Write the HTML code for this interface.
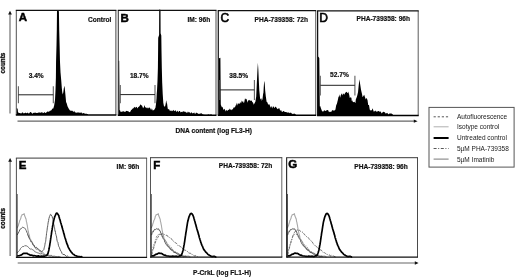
<!DOCTYPE html>
<html lang="en"><head><meta charset="utf-8"><title>Figure</title>
<style>html,body{margin:0;padding:0;background:#fff;}body{width:520px;height:277px;overflow:hidden;}svg{display:block;}text{font-family:"Liberation Sans", sans-serif;fill:#111;}.b{font-weight:bold;font-size:6.6px;stroke:#111;stroke-width:0.18px;}.r{font-size:6.5px;fill:#1a1a1a;}.L{font-weight:bold;font-size:11.5px;stroke:#000;stroke-width:0.5px;fill:#000;}.Lr{font-size:12px;stroke:#000;stroke-width:0.6px;fill:#000;}.c{font-weight:bold;font-size:6.3px;stroke:#111;stroke-width:0.3px;}</style></head><body>
<svg width="520" height="277" viewBox="0 0 520 277">
<rect width="520" height="277" fill="#fff"/>
<g fill="#000" stroke="none">
<path d="M16.5 115 L16.5 107.69 L17.3 108.83 L17.6 108.22 L18 112.37 L19 113 L19.7 112.95 L20.5 113.26 L21.3 113.48 L22.1 112.54 L22.9 112.48 L23.7 113.62 L24.5 113.09 L25 113.32 L25.3 112.48 L26.1 112.99 L26.9 113.28 L27.7 112.49 L28.5 113.42 L29.3 113.27 L30 112.36 L30.9 112.09 L31.7 113 L32.5 113.71 L33 113.14 L33.3 112.8 L34.1 113.05 L34.9 112.48 L35.7 112.71 L36.5 112.97 L37.3 113.02 L38 112.87 L38.9 112.56 L39.7 112.49 L40.5 112.78 L41.3 112.48 L42.1 112.03 L42.9 113.17 L43.7 112.7 L44 112.67 L44.5 112.03 L45.3 113.09 L46.1 112.74 L47 111.79 L47.7 111.44 L48.5 111.78 L49.3 111.46 L49.5 111.27 L50.1 110.49 L50.9 110.81 L51.5 109.92 L52.5 108.5 L53 108.57 L53.3 108.57 L54.2 105.36 L55 100.01 L55.5 90.11 L55.9 77.45 L56.05 61.69 L56.5 45.35 L56.8 29.9 L57 10.11 L57.3 10.67 L58.1 11.19 L58.9 10.71 L59.2 29.85 L59.6 44.93 L60 62.01 L60.5 72.33 L61.2 80.02 L61.8 87.87 L62.1 90.96 L62.3 92.44 L62.8 94.46 L63.3 92.24 L63.8 88.57 L64.3 85.71 L64.8 88.37 L65.3 93.61 L65.8 99 L66.1 102.14 L66.5 102.82 L66.9 104.03 L67.5 106.35 L68.5 108.28 L69.3 109.44 L70 110.51 L70.9 110.71 L71.7 110.81 L72.5 110.79 L73 111.43 L73.3 112.24 L74.1 110.77 L74.9 112.21 L75.7 112.41 L76.5 112.65 L77.3 112.55 L78 112.47 L78.9 112.49 L79.7 112.7 L80.5 112.64 L81.3 112.26 L82.1 113.55 L83 113.23 L83.7 112.94 L84.5 113.51 L85.3 113.64 L86.1 113.64 L86.9 113.79 L87.7 114.19 L88 114.25 L88 115 Z"/>
<path d="M118.3 115.4 L118.3 60.81 L119.2 60.8 L119.6 110.61 L119.9 110.01 L120.7 111.97 L121.5 111.83 L122.3 111.77 L123.1 111.03 L124 111.68 L124.7 111.8 L125.5 111.69 L126.3 110.65 L127.1 111.23 L127.9 111.09 L128.5 111.49 L129.5 112.15 L130.3 111.77 L131 110.34 L131.9 109.6 L132.7 108.57 L133.5 108.27 L134.3 106.75 L135.1 107.78 L136 107.16 L136.7 106.76 L137.5 108.51 L138.3 106.89 L139 106.68 L139.9 105.38 L140.7 104.37 L141.5 105.46 L142 105.57 L142.3 106.16 L143.1 108.24 L143.9 106.95 L144.7 104.98 L145 106.86 L145.5 107.62 L146.3 107.54 L147.1 108.39 L148 107.35 L148.7 108.45 L149.5 107.25 L150.5 108.87 L151.1 110.26 L151.9 108.31 L152.5 110.06 L152.7 110.52 L153.5 110.26 L154.5 109.53 L155.1 108.13 L155.4 108.05 L156 104 L156.5 98.59 L156.7 94.06 L157 90.68 L157.5 80.71 L157.9 67.93 L158.1 50.12 L158.2 37.75 L159.1 34.9 L159.2 10.48 L159.9 9.09 L160.5 10.19 L160.6 33.35 L161.3 35.41 L161.5 50.73 L161.8 67.59 L162.2 82.73 L162.7 93.66 L163.3 102.81 L164 106.3 L164.7 106.58 L165 106.82 L165.6 104.26 L166.2 100.36 L166.8 103.17 L167.1 103.67 L167.5 107.02 L167.9 109.2 L168.7 109.24 L169 108.84 L169.5 110.48 L170.3 110.51 L171.1 111.34 L172 110.32 L172.7 111.33 L173.5 109.67 L174.3 111.29 L175.1 110.45 L175.9 110.45 L176.7 112.13 L177.5 110.4 L178 111.42 L178.3 112.27 L179.1 110.93 L179.9 110.96 L180.7 112.57 L181.5 111.63 L182.3 112.37 L183.1 110.97 L183.9 111.78 L184.7 111.48 L185 112.33 L185.5 111.39 L186.3 113.27 L187.1 111.49 L187.9 112.98 L188.7 111.69 L189.5 112.25 L190.3 113.4 L191.1 112.26 L192 112.8 L192.7 113.41 L193.5 112.95 L194.3 112.44 L195.1 114.15 L195.9 112.8 L196.7 112.7 L197.5 113.3 L198.3 113.81 L199.1 114.09 L200 113.59 L200.7 113.61 L201.5 113.23 L202.3 113.93 L203.1 114.46 L203.9 114.48 L204.7 114.78 L205.5 114.63 L206.3 114.84 L207.1 114.69 L208 114.49 L208.7 114.22 L209.5 114.85 L210.3 114.5 L211.1 114.33 L211.9 114.83 L212.7 115.4 L213 114.85 L213 115.4 Z"/>
<path d="M218.6 115.4 L218.6 57.51 L219.4 58.24 L220.4 57.76 L220.8 104.19 L221 105.28 L222 107.44 L222.6 106.69 L223.4 110.06 L224.2 108.71 L225 109.73 L225.8 111.43 L226.6 109.83 L227.4 110.89 L228.2 109.77 L229 109.95 L229.8 108.51 L230.6 109.8 L231.4 110.35 L232 109.03 L232.2 109.66 L233 108.86 L234 106.91 L234.6 107.81 L235.4 106.16 L236 104.67 L236.2 102.54 L237 105.87 L238 102.95 L238.6 103.78 L239.4 104.12 L240.2 102 L241 103.55 L241.8 100.47 L242.6 102.34 L243 100.5 L243.4 102.86 L244.2 102.46 L245 98.19 L246 99.52 L246.6 98.75 L247.4 102.82 L248.2 100.08 L249 100.74 L249.8 99.65 L250.6 100.97 L251.4 100.53 L252 101.02 L252.2 101.89 L253 102.43 L253.8 104.67 L254.5 103.34 L255.4 101.8 L256 97.66 L256.2 96.81 L256.5 90.32 L257 79.37 L257.5 68.67 L257.9 62.77 L258.3 68.75 L258.8 80.13 L259.3 90.4 L259.8 95.46 L260.2 99.48 L260.5 99.14 L261 98.16 L261.5 98.79 L261.8 101 L262.5 98.91 L263.2 93.23 L263.4 93.2 L263.7 87.83 L264.1 82.35 L264.4 80.92 L264.8 84.5 L265.2 90.69 L265.8 96.15 L266.6 101.71 L267.5 102.55 L268.2 105.03 L269 103.65 L270 105.82 L270.6 107.73 L271.4 106.03 L272.2 108.57 L273 106.15 L274 106.93 L274.6 108.13 L275.4 106.39 L276.2 107.37 L277 108.46 L278 109.32 L278.6 108.33 L279.4 108.31 L280.2 111.08 L281 109.75 L281.8 111.82 L282.6 111.9 L283 110.89 L283.4 111.02 L284.2 111.41 L285 111.94 L285.8 112.06 L286.6 112.21 L287.4 112.57 L288 112.82 L288.2 112.56 L289 112.58 L289.8 113.31 L290.6 112.59 L291.4 112.89 L292.2 114.24 L293 113.61 L293.8 113.94 L294.6 113.42 L295.4 114.28 L296 114.64 L296 115.4 Z"/>
<path d="M317.8 115.7 L317.8 58.01 L318.6 56.39 L319.3 58.31 L319.8 106.5 L320.2 105.94 L321 108.57 L322 110.92 L322.6 111.43 L323.4 111.42 L324.2 110 L325 110.98 L326 110.79 L326.6 110.15 L327.4 110.02 L328.2 110.35 L329 112.28 L330 111.5 L330.6 111.9 L331.4 111.74 L332.2 109.91 L333 110.41 L333.8 110.54 L334.6 110.45 L335 109.9 L335.4 109.72 L336.2 105.35 L337 103.49 L337.5 101.32 L337.8 100.23 L338.6 96.35 L339 96.95 L339.4 94.32 L340.2 97.81 L340.6 95.68 L341 94.82 L342 93.13 L342.6 95.48 L343.5 93.13 L344.2 94.85 L345 93.25 L345.8 92.27 L346.7 91.64 L347.4 92.97 L348 92.87 L348.2 91.53 L349.2 94.64 L349.8 98.05 L350.5 97.15 L351.4 97.66 L351.8 101.24 L352.2 100.27 L353 102.36 L353.8 101.99 L354.5 101.71 L355.4 103.26 L355.8 99.43 L356.2 98.54 L357 96.45 L358 92.25 L358.8 84.58 L359.5 79.33 L360.2 84.46 L361 89.67 L362 94.11 L362.6 97.15 L363.5 95.76 L364.2 94.77 L365 97.3 L365.8 99.61 L366.2 98.61 L366.6 97.64 L367.2 99.69 L367.4 99.28 L368.2 104.93 L369 104.93 L369.5 108.26 L369.8 109.68 L370.6 110.38 L371.4 110.14 L372 110.3 L372.2 108.37 L373 109.46 L373.8 111.71 L374.6 111.36 L375.4 110.57 L376 111.42 L376.2 111.37 L377 112.09 L377.8 110.95 L378.6 110.92 L379.4 111.75 L380.2 111.26 L381 112.21 L381.8 113.45 L382.6 112.24 L383.4 111.73 L384.2 111.97 L385 112.39 L385.8 113.72 L386.6 113.07 L387 113.27 L387.4 112.76 L388.2 114.48 L389 113.67 L389.8 113.48 L390.6 113.43 L391.4 113.61 L392.2 113.96 L393 114.69 L393 115.7 Z"/>
</g>
<path d="M16.3 10.3V114.9" stroke="#505050" stroke-width="1"/>
<path d="M115.9 10.3V114.9" stroke="#444" stroke-width="1"/>
<path d="M15.8 10.3H116.4" stroke="#111" stroke-width="1.2"/>
<path d="M15.8 114.9H116.4" stroke="#000" stroke-width="1.5"/>
<path d="M118.3 10.4V115.2" stroke="#3a3a3a" stroke-width="1.1"/>
<path d="M216 10.4V115.2" stroke="#505050" stroke-width="1"/>
<path d="M117.8 10.4H216.5" stroke="#111" stroke-width="1.2"/>
<path d="M117.8 115.2H216.5" stroke="#000" stroke-width="1.5"/>
<path d="M218.3 10.6V115.3" stroke="#222" stroke-width="1.3"/>
<path d="M315.7 10.6V115.3" stroke="#606060" stroke-width="1"/>
<path d="M217.8 10.6H316.2" stroke="#111" stroke-width="1.2"/>
<path d="M217.8 115.3H316.2" stroke="#000" stroke-width="1.5"/>
<path d="M317.6 10.8V115.6" stroke="#111" stroke-width="1.3"/>
<path d="M418.2 10.8V115.6" stroke="#5a5a5a" stroke-width="1"/>
<path d="M317.1 10.8H418.7" stroke="#111" stroke-width="1.2"/>
<path d="M317.1 115.6H418.7" stroke="#000" stroke-width="1.5"/>
<path d="M18.4 86.3V103.3 M53.3 86.3V103.3" fill="none" stroke="#606060" stroke-width="1.1"/>
<path d="M18.4 94.8H53.3" fill="none" stroke="#222" stroke-width="1"/>
<path d="M120.3 85V103.3 M155 85V103.3" fill="none" stroke="#606060" stroke-width="1.1"/>
<path d="M120.3 94.6H155" fill="none" stroke="#222" stroke-width="1"/>
<path d="M219.9 80V100 M254.4 80V100" fill="none" stroke="#606060" stroke-width="1.1"/>
<path d="M219.9 89.9H254.4" fill="none" stroke="#222" stroke-width="1"/>
<path d="M320.3 75.7V95.4 M354.9 75.7V95.4" fill="none" stroke="#606060" stroke-width="1.1"/>
<path d="M320.3 85.3H354.9" fill="none" stroke="#222" stroke-width="1"/>
<text x="18.8" y="20.8" class="L" text-anchor="start">A</text>
<text x="120.6" y="22.2" class="L" text-anchor="start">B</text>
<text x="220.6" y="22.4" class="Lr" text-anchor="start">C</text>
<text x="319.2" y="22.3" class="Lr" text-anchor="start">D</text>
<text x="111.4" y="22.1" class="b" text-anchor="end">Control</text>
<text x="210.2" y="22.2" class="b" text-anchor="end">IM: 96h</text>
<text x="308" y="22.1" class="b" text-anchor="end">PHA-739358: 72h</text>
<text x="410" y="21.4" class="b" text-anchor="end">PHA-739358: 96h</text>
<text x="36.2" y="78" class="b" text-anchor="middle">3.4%</text>
<text x="139.3" y="78" class="b" text-anchor="middle">18.7%</text>
<text x="238.7" y="77.6" class="b" text-anchor="middle">38.5%</text>
<text x="339.4" y="77.1" class="b" text-anchor="middle">52.7%</text>
<line x1="10" y1="12.8" x2="10" y2="113.5" stroke="#555" stroke-width="1"/>
<path d="M10 10.8L8.1 14.4L11.9 14.4Z" fill="#111"/>
<line x1="17.5" y1="121.15" x2="415.6" y2="121.15" stroke="#666" stroke-width="1.1"/>
<path d="M417.6 121.15L413.8 119.45L413.8 122.85Z" fill="#111"/>
<text x="175.6" y="132.6" class="b" text-anchor="start">DNA content (log FL3-H)</text>
<text transform="translate(4.5 63.1) rotate(-90)" class="c" text-anchor="middle">counts</text>
<path d="M17.2 228 L17.46 227.24 L17.84 226.4 L18.28 225.76 L18.7 223.95 L19.03 223.05 L19.37 222.13 L19.72 220.51 L20.06 219.95 L20.4 219.18 L20.81 218.34 L21.21 216.36 L21.6 215.76 L22 214.73 L22.8 214.64 L23.6 214.17 L24.13 213.65 L24.66 215.8 L25.2 217.15 L25.43 217.5 L25.67 218.36 L25.9 218.73 L26.14 219.64 L26.38 221.54 L26.64 222.11 L26.9 223.57 L27.09 224.59 L27.29 225.31 L27.49 227.01 L27.7 228.09 L27.91 229.79 L28.12 230.47 L28.34 231.75 L28.55 232.61 L28.78 233.83 L29 234.44 L29.38 235.52 L29.77 237.72 L30.17 238.8 L30.57 239.58 L30.98 240.35 L31.4 240.74 L31.9 241.72 L32.41 242.82 L32.93 243.48 L33.46 245.34 L34 245.66 L34.7 247.22 L35.42 247.4 L36.16 248.95 L36.9 249.49 L37.84 249.09 L38.79 250.05 L39.9 251.77 L40.68 251.69 L41.52 252.98 L42.42 252.75 L43.38 252.87 L44.4 254.18 L45.31 254.81 L46.29 254.51 L47.31 254.66 L48.34 255.37 L49.38 256.58 L50.4 256.56 L51.47 255.86 L52.62 256.19 L53.77 256.08 L54.84 256.09 L55.75 257.17 L56.4 256.8" fill="none" stroke="#a8a8a8" stroke-width="1.1" stroke-linejoin="round"/>
<path d="M17.2 235 L17.64 234.03 L18.29 232.97 L19 231.73 L19.76 229.93 L20.59 228.75 L21.4 228.42 L22.57 227.26 L23.7 227.63 L24.38 227.84 L25.03 228.5 L25.7 229.58 L26.12 230.62 L26.55 230.97 L26.99 232.56 L27.44 233.38 L27.9 235.57 L28.29 235.3 L28.67 237.29 L29.06 237.18 L29.47 238.96 L29.92 239.38 L30.4 240.37 L30.93 241.87 L31.51 241.62 L32.11 242.57 L32.74 244.62 L33.37 244.87 L34 245.03 L34.76 247.08 L35.53 247.75 L36.32 247.24 L37.11 248.29 L37.9 248.49 L38.94 249.57 L40.02 250.85 L41.04 250.86 L41.9 251.88 L42.73 250.69 L43.33 250 L43.9 249.44 L44.13 248.15 L44.35 247.36 L44.56 246.71 L44.77 245.55 L44.98 244.37 L45.19 242.75 L45.39 242.55 L45.6 241.65 L45.74 240.8 L45.87 239.44 L46 238.04 L46.13 237.05 L46.26 236.47 L46.39 235.4 L46.52 233.56 L46.66 232.67 L46.79 231.8 L46.92 230.98 L47.06 230.39 L47.2 229 L47.37 227.2 L47.55 227.15 L47.73 225.43 L47.91 224.39 L48.09 222.84 L48.27 222.04 L48.45 220.95 L48.64 220.52 L48.82 218.71 L49 218.57 L49.45 216.47 L49.9 216.04 L50.35 214.4 L50.8 214.49 L51.24 214.82 L51.67 215.92 L52.12 216.26 L52.6 218.44 L52.78 218.82 L52.98 219.76 L53.17 220.97 L53.37 222.65 L53.57 223.04 L53.78 224.79 L53.98 224.8 L54.19 226.97 L54.39 227.27 L54.6 228.08 L54.8 229.85 L55.02 231.13 L55.24 230.92 L55.47 232.34 L55.69 234.09 L55.91 234.52 L56.13 235.39 L56.35 236.05 L56.57 237.05 L56.79 238.78 L57 240.18 L57.29 241.39 L57.57 241.82 L57.85 242.21 L58.13 243.65 L58.41 245.27 L58.7 246.26 L59 246.9 L59.45 247.54 L59.92 249.11 L60.41 250.12 L60.9 251.31 L61.4 251.67 L62.19 253.78 L62.99 254.59 L64 254.33 L65.08 255.07 L66.36 256.4 L67.57 255.99 L68.4 256.6" fill="none" stroke="#4a4a4a" stroke-width="0.9" stroke-linejoin="round"/>
<path d="M17.2 253 L17.68 252.01 L18.36 251.68 L19.14 250.66 L19.9 249.99 L20.63 248.29 L21.38 247.61 L22.14 246.84 L22.9 246.42 L23.9 246.59 L24.9 245.41 L25.9 245.94 L26.86 245.9 L27.83 246.73 L28.9 247.7 L29.81 248.86 L30.77 249.18 L31.81 249 L32.9 249.99 L33.81 250.27 L34.76 251.73 L35.74 252.08 L36.79 252.51 L37.9 252.96 L38.88 253.19 L39.9 253.83 L40.96 253.96 L42.07 253.54 L43.21 254.69 L44.4 254.48 L45.33 255.07 L46.29 255.02 L47.29 255.04 L48.31 255.14 L49.33 255.42 L50.36 255.43 L51.39 255.32 L52.4 256.45 L53.45 256.55 L54.59 256.93 L55.75 256.62 L56.9 256.52 L57.99 256.87 L58.96 256.08 L59.78 256.9 L60.4 256.7" fill="none" stroke="#666" stroke-width="0.9" stroke-linejoin="round"/>
<path d="M17.2 256.2 L18.02 255.73 L19.19 255.74 L20.4 255.29 L21.56 254.89 L22.76 253.84 L23.9 253.35 L24.92 253.43 L25.88 253.34 L26.9 253.28 L27.94 253.94 L29.03 254.39 L30.4 255.17 L31.23 254.98 L32.14 255.24 L33.12 255.83 L34.16 255.66 L35.26 255.74 L36.4 256.18 L37.34 256.16 L38.38 255.94 L39.47 256.25 L40.59 256.37 L41.68 256.1 L42.7 256.39 L43.63 256.05 L44.4 256.1 L45.81 255.74 L46.66 255.39 L47.4 254.79 L47.74 253.72 L48.04 253.23 L48.33 251.94 L48.6 250.97 L48.86 249.94 L49.12 248.52 L49.4 246.77 L49.55 246.23 L49.71 245.37 L49.86 244.16 L50.02 243.13 L50.17 242.58 L50.32 241.32 L50.48 240.06 L50.63 239.15 L50.78 237.94 L50.94 237.22 L51.09 236 L51.25 234.74 L51.4 234.19 L51.57 232.7 L51.73 231.75 L51.9 230.53 L52.07 229.88 L52.23 228.44 L52.4 227.64 L52.57 226.35 L52.73 225.58 L52.9 224.74 L53.07 223.72 L53.23 222.79 L53.4 221.99 L53.69 220.65 L53.98 219.54 L54.28 218.12 L54.57 217.34 L54.86 216.3 L55.14 215.89 L55.4 215.26 L56.24 213.4 L57 213.19 L57.73 214 L58.4 215.04 L58.77 215.55 L59.12 217.02 L59.6 218.77 L59.85 219.29 L60.12 220.22 L60.43 221.43 L60.75 222.79 L61.08 223.56 L61.4 224.74 L61.71 225.79 L62 227.08 L62.31 228.06 L62.6 228.96 L62.89 230.04 L63.16 230.8 L63.44 231.93 L63.72 233.3 L64 234.05 L64.28 234.87 L64.56 236.28 L64.83 236.94 L65.11 237.89 L65.39 238.76 L65.69 239.81 L66 240.82 L66.39 241.98 L66.8 243.51 L67.22 244.28 L67.65 245.37 L68.08 246.62 L68.5 247.75 L69.11 248.62 L69.72 249.98 L70.34 250.72 L71 251.74 L71.71 252.6 L72.47 253.58 L73.24 254.15 L74 254.6 L74.91 255.47 L75.82 255.7 L77 256.13 L78.01 256.68 L79.25 256.61 L80.51 256.88 L81.63 256.71 L82.4 256.9" fill="none" stroke="#000" stroke-width="1.7" stroke-linejoin="round"/>
<line x1="17" y1="194" x2="17.1" y2="257.6" stroke="#1a1a1a" stroke-width="1"/>
<path d="M151.3 228 L151.56 227.24 L151.94 226.4 L152.38 225.76 L152.8 223.95 L153.13 223.05 L153.47 222.13 L153.82 220.51 L154.16 219.95 L154.5 219.18 L154.91 218.34 L155.31 216.36 L155.7 215.76 L156.1 214.73 L156.9 214.64 L157.7 214.17 L158.23 213.65 L158.76 215.8 L159.3 217.15 L159.53 217.5 L159.77 218.36 L160 218.73 L160.24 219.64 L160.48 221.54 L160.74 222.11 L161 223.57 L161.19 224.59 L161.39 225.31 L161.59 227.01 L161.8 228.09 L162.01 229.79 L162.22 230.47 L162.44 231.75 L162.65 232.61 L162.88 233.83 L163.1 234.44 L163.48 235.52 L163.87 237.72 L164.27 238.8 L164.67 239.58 L165.08 240.35 L165.5 240.74 L166 241.72 L166.51 242.82 L167.03 243.48 L167.56 245.34 L168.1 245.66 L168.8 247.22 L169.52 247.4 L170.26 248.95 L171 249.49 L171.94 249.09 L172.89 250.05 L174 251.77 L174.78 251.69 L175.62 252.98 L176.52 252.75 L177.48 252.87 L178.5 254.18 L179.41 254.81 L180.39 254.51 L181.41 254.66 L182.44 255.37 L183.48 256.58 L184.5 256.56 L185.57 255.86 L186.72 256.19 L187.88 256.08 L188.94 256.09 L189.85 257.17 L190.5 256.8" fill="none" stroke="#a8a8a8" stroke-width="1.1" stroke-linejoin="round"/>
<path d="M151.3 235 L151.65 234.91 L152.15 232.72 L152.73 231.44 L153.3 231.9 L154.08 229.93 L154.9 229.23 L155.7 229.51 L156.81 228.58 L157.9 229.35 L158.63 228.83 L159.35 230.56 L160.1 230.75 L160.48 231.87 L160.87 233.21 L161.26 233.83 L161.66 235.18 L162.07 235.9 L162.5 235.97 L162.94 238.13 L163.4 238.75 L163.88 239.4 L164.35 240.25 L164.83 242.13 L165.3 242.62 L165.97 244.18 L166.63 244.85 L167.32 245.94 L168.1 246.29 L168.81 247.29 L169.58 248.04 L170.38 248.4 L171.2 250.2 L172 250.04 L172.98 251.48 L173.96 252.41 L174.96 252.6 L176 252.5 L176.84 253.94 L177.69 254.19 L178.57 253.96 L179.5 254.19 L180.5 255.24 L181.48 254.84 L182.61 256.37 L183.78 256.05 L184.89 256.29 L185.83 256.33 L186.5 256.6" fill="none" stroke="#4a4a4a" stroke-width="0.9" stroke-linejoin="round"/>
<path d="M151.4 255 L151.62 254.95 L151.93 254.08 L152.3 252.93 L152.7 250.62 L153.1 250.13 L153.38 248.99 L153.68 248.16 L153.99 246.57 L154.3 245.6 L154.63 244.91 L154.96 243.57 L155.3 242.94 L155.71 241.24 L156.14 240.23 L156.57 240.03 L157.02 238.62 L157.46 237.82 L157.9 237.33 L158.77 235.54 L159.63 234.22 L160.5 234.6 L161.75 233.86 L163.1 234.02 L164.15 234.24 L165.29 235.19 L166.5 235.01 L167.26 236.08 L168.06 236.15 L168.87 237.11 L169.69 237.93 L170.5 238.14 L171.28 238.5 L172.04 239.72 L172.81 240.77 L173.62 241.33 L174.5 241.93 L175.18 242.82 L175.9 242.84 L176.64 243.52 L177.41 244.43 L178.2 245.82 L178.99 245.63 L179.8 246.16 L180.62 246.75 L181.47 247.26 L182.34 248.18 L183.21 249.16 L184.09 250.06 L184.95 249.92 L185.8 250.52 L186.76 251.03 L187.71 251.67 L188.65 252.94 L189.59 253.21 L190.54 253.35 L191.5 253.65 L192.55 255.08 L193.7 255.43 L194.86 256.03 L195.93 255.58 L196.84 256.33 L197.5 256.5" fill="none" stroke="#505050" stroke-width="0.85" stroke-linejoin="round" stroke-dasharray="3 1 1 1"/>
<path d="M151.3 253 L151.5 252.67 L151.76 252.02 L152.07 250.1 L152.42 250.13 L152.79 247.85 L153.15 247.35 L153.5 245.43 L153.8 245.38 L154.1 243.49 L154.42 243.19 L154.73 242.13 L155.05 241.12 L155.37 239.66 L155.69 239.33 L156 238.68 L156.62 236.06 L157.25 235.46 L157.88 235.2 L158.5 234.33 L159.72 233.92 L161 234.73 L161.56 236.23 L162.14 235.78 L162.74 237.58 L163.36 238.6 L164 238.52 L164.66 239.63 L165.34 240.49 L166.04 241.73 L166.76 242.41 L167.5 244.05 L168.14 244.85 L168.8 244.76 L169.47 246.33 L170.15 245.93 L170.83 246.71 L171.5 248.23 L172.28 249.26 L173.05 250.11 L173.83 251.15 L174.64 251.74 L175.5 251.67 L176.28 252.98 L177.09 253.89 L177.94 253.36 L178.8 254.52 L179.66 254.58 L180.5 255 L181.58 255.86 L182.74 256.4 L183.86 257.02 L184.82 255.97 L185.5 256.6" fill="none" stroke="#777" stroke-width="0.8" stroke-linejoin="round" stroke-dasharray="1.6 1.2"/>
<path d="M151.3 256.2 L152.12 255.89 L153.29 255.88 L154.5 255.41 L155.66 254.45 L156.86 254.2 L158 253.58 L159.02 253 L159.98 253.51 L161 253.25 L162.04 253.77 L163.13 254.54 L164.5 255.25 L165.32 255.2 L166.21 255.74 L167.16 256.01 L168.19 255.98 L169.3 256.28 L170.5 256.27 L171.52 256.46 L172.67 256.13 L173.91 256.29 L175.17 256.38 L176.4 256.17 L177.56 256.66 L178.57 256.39 L179.4 255.96 L180.73 255.89 L181.34 255.19 L181.9 253.81 L182.17 253.11 L182.44 252.5 L182.69 251.39 L182.93 250.71 L183.17 249.63 L183.41 248.26 L183.65 247.5 L183.9 245.72 L184.05 244.96 L184.21 244.46 L184.36 243.15 L184.52 242.29 L184.67 241.35 L184.82 240.24 L184.98 239.22 L185.13 238.16 L185.28 237.08 L185.44 235.77 L185.59 235.18 L185.75 233.85 L185.9 232.73 L186.07 231.89 L186.23 231.06 L186.4 229.87 L186.57 228.68 L186.74 227.61 L186.91 226.39 L187.07 225.59 L187.24 224.43 L187.41 223.29 L187.57 222.42 L187.74 221.54 L187.9 221.11 L188.23 219.83 L188.55 218.55 L188.88 217.18 L189.19 216.24 L189.5 215.95 L189.8 214.92 L190.63 213.53 L191.4 213.44 L192.12 213.95 L192.8 215.02 L193.17 215.81 L193.52 216.77 L194 218.5 L194.25 219.31 L194.53 220.42 L194.83 221.36 L195.15 222.44 L195.48 223.99 L195.8 224.63 L196.11 226.13 L196.4 226.95 L196.71 228.26 L197 229.23 L197.29 230.14 L197.56 231.14 L197.84 231.88 L198.12 232.72 L198.4 234.15 L198.68 234.86 L198.96 235.78 L199.23 237.21 L199.51 238.09 L199.79 238.76 L200.09 240.04 L200.4 240.8 L200.79 242.36 L201.2 243.15 L201.62 244.69 L202.05 245.59 L202.48 246.3 L202.9 247.45 L203.51 249.02 L204.12 249.95 L204.74 250.59 L205.4 251.62 L206.11 252.41 L206.87 253.07 L207.64 254.05 L208.4 254.72 L209.33 255.09 L210.25 255.81 L211.4 256.42 L212.35 256.64 L213.5 256.38 L214.66 256.46 L215.69 257.07 L216.4 256.9" fill="none" stroke="#000" stroke-width="1.7" stroke-linejoin="round"/>
<line x1="151.1" y1="194" x2="151.2" y2="257.6" stroke="#1a1a1a" stroke-width="1"/>
<path d="M287.4 228 L287.66 227.24 L288.04 226.4 L288.48 225.76 L288.9 223.95 L289.23 223.05 L289.57 222.13 L289.92 220.51 L290.26 219.95 L290.6 219.18 L291.01 218.34 L291.41 216.36 L291.8 215.76 L292.2 214.73 L293 214.64 L293.8 214.17 L294.33 213.65 L294.86 215.8 L295.4 217.15 L295.63 217.5 L295.87 218.36 L296.1 218.73 L296.34 219.64 L296.58 221.54 L296.84 222.11 L297.1 223.57 L297.29 224.59 L297.49 225.31 L297.69 227.01 L297.9 228.09 L298.11 229.79 L298.32 230.47 L298.54 231.75 L298.75 232.61 L298.98 233.83 L299.2 234.44 L299.58 235.52 L299.97 237.72 L300.37 238.8 L300.77 239.58 L301.18 240.35 L301.6 240.74 L302.1 241.72 L302.61 242.82 L303.13 243.48 L303.66 245.34 L304.2 245.66 L304.9 247.22 L305.63 247.4 L306.36 248.95 L307.1 249.49 L308.04 249.09 L308.99 250.05 L310.1 251.77 L310.88 251.69 L311.72 252.98 L312.62 252.75 L313.58 252.87 L314.6 254.18 L315.51 254.81 L316.49 254.51 L317.51 254.66 L318.54 255.37 L319.58 256.58 L320.6 256.56 L321.67 255.86 L322.82 256.19 L323.98 256.08 L325.04 256.09 L325.95 257.17 L326.6 256.8" fill="none" stroke="#a8a8a8" stroke-width="1.1" stroke-linejoin="round"/>
<path d="M287.4 235 L287.75 234.91 L288.25 232.72 L288.82 231.44 L289.4 231.9 L290.18 229.93 L291 229.23 L291.8 229.51 L292.91 228.58 L294 229.35 L294.73 228.83 L295.45 230.56 L296.2 230.75 L296.58 231.87 L296.97 233.21 L297.36 233.83 L297.76 235.18 L298.17 235.9 L298.6 235.97 L299.04 238.13 L299.5 238.75 L299.98 239.4 L300.45 240.25 L300.93 242.13 L301.4 242.62 L302.07 244.18 L302.73 244.85 L303.42 245.94 L304.2 246.29 L304.91 247.29 L305.68 248.04 L306.48 248.4 L307.3 250.2 L308.1 250.04 L309.08 251.48 L310.06 252.41 L311.06 252.6 L312.1 252.5 L312.94 253.94 L313.79 254.19 L314.67 253.96 L315.6 254.19 L316.6 255.24 L317.58 254.84 L318.71 256.37 L319.88 256.05 L320.99 256.29 L321.93 256.33 L322.6 256.6" fill="none" stroke="#4a4a4a" stroke-width="0.9" stroke-linejoin="round"/>
<path d="M287.5 255 L287.68 254.97 L287.92 254.15 L288.21 253.05 L288.53 250.79 L288.87 250.31 L289.2 248.89 L289.45 248.13 L289.71 246.6 L289.99 245.67 L290.27 244.98 L290.55 243.62 L290.84 242.91 L291.12 241.3 L291.4 240.42 L291.71 240.21 L292.03 238.71 L292.34 237.76 L292.66 237.02 L292.97 235.51 L293.29 234.18 L293.6 234.4 L294.15 232.96 L294.69 232.12 L295.24 231.34 L295.8 231.26 L296.99 229.82 L298.2 230.36 L299.34 230.22 L300.6 231.3 L301.32 231.92 L302.09 232 L302.93 232.37 L303.9 233.76 L304.53 234.69 L305.21 235.16 L305.93 235.67 L306.67 236.69 L307.43 236.81 L308.18 237.58 L308.9 238.55 L309.6 240.01 L310.28 239.94 L310.95 240.64 L311.63 241.43 L312.32 242.17 L313.04 243.3 L313.8 244.5 L314.6 245.62 L315.44 245.72 L316.3 246.54 L317.18 247.19 L318.06 247.95 L318.94 249.32 L319.8 249.67 L320.65 249.9 L321.49 250.3 L322.34 251.83 L323.18 252.28 L324.02 252.99 L324.86 252.66 L325.7 253.56 L326.71 254.6 L327.74 254.63 L328.77 255.57 L329.77 254.88 L330.73 256.36 L331.6 255.38 L332.83 256.22 L333.97 255.89 L334.93 257.13 L335.6 256.8" fill="none" stroke="#505050" stroke-width="0.85" stroke-linejoin="round" stroke-dasharray="3 1 1 1"/>
<path d="M287.4 253 L287.6 252.67 L287.86 252.02 L288.17 250.1 L288.52 250.13 L288.89 247.85 L289.25 247.35 L289.6 245.43 L289.9 245.38 L290.2 243.49 L290.52 243.19 L290.83 242.13 L291.15 241.12 L291.47 239.66 L291.79 239.33 L292.1 238.68 L292.73 236.06 L293.35 235.46 L293.98 235.2 L294.6 234.33 L295.82 233.92 L297.1 234.73 L297.66 236.23 L298.24 235.78 L298.84 237.58 L299.46 238.6 L300.1 238.52 L300.76 239.63 L301.44 240.49 L302.14 241.73 L302.86 242.41 L303.6 244.05 L304.24 244.85 L304.9 244.76 L305.57 246.33 L306.25 245.93 L306.93 246.71 L307.6 248.23 L308.38 249.26 L309.15 250.11 L309.93 251.15 L310.74 251.74 L311.6 251.67 L312.38 252.98 L313.19 253.89 L314.04 253.36 L314.9 254.52 L315.76 254.58 L316.6 255 L317.68 255.86 L318.84 256.4 L319.96 257.02 L320.92 255.97 L321.6 256.6" fill="none" stroke="#777" stroke-width="0.8" stroke-linejoin="round" stroke-dasharray="1.6 1.2"/>
<path d="M287.4 256.2 L288.22 255.89 L289.39 255.88 L290.6 255.41 L291.76 254.45 L292.96 254.2 L294.1 253.58 L295.12 253 L296.08 253.51 L297.1 253.25 L298.14 253.77 L299.23 254.54 L300.6 255.25 L301.43 255.2 L302.32 255.74 L303.28 256.01 L304.31 255.98 L305.42 256.28 L306.6 256.27 L307.59 256.46 L308.71 256.13 L309.9 256.29 L311.12 256.38 L312.31 256.17 L313.42 256.66 L314.4 256.39 L315.2 255.96 L316.5 255.89 L317.13 255.19 L317.7 253.81 L317.97 253.11 L318.24 252.5 L318.49 251.39 L318.73 250.71 L318.97 249.63 L319.21 248.26 L319.45 247.5 L319.7 245.72 L319.85 244.96 L320.01 244.46 L320.16 243.15 L320.32 242.29 L320.47 241.35 L320.62 240.24 L320.78 239.22 L320.93 238.16 L321.08 237.08 L321.24 235.77 L321.39 235.18 L321.55 233.85 L321.7 232.73 L321.87 231.89 L322.03 231.06 L322.2 229.87 L322.37 228.68 L322.54 227.61 L322.71 226.39 L322.87 225.59 L323.04 224.43 L323.21 223.29 L323.37 222.42 L323.54 221.54 L323.7 221.11 L324.03 219.83 L324.35 218.55 L324.68 217.18 L324.99 216.24 L325.3 215.95 L325.6 214.92 L326.43 213.53 L327.2 213.44 L327.93 213.95 L328.6 215.02 L328.97 215.81 L329.32 216.77 L329.8 218.5 L330.05 219.31 L330.33 220.42 L330.63 221.36 L330.95 222.44 L331.28 223.99 L331.6 224.63 L331.91 226.13 L332.2 226.95 L332.51 228.26 L332.8 229.23 L333.09 230.14 L333.36 231.14 L333.64 231.88 L333.92 232.72 L334.2 234.15 L334.48 234.86 L334.76 235.78 L335.03 237.21 L335.31 238.09 L335.59 238.76 L335.89 240.04 L336.2 240.8 L336.59 242.36 L337 243.15 L337.42 244.69 L337.85 245.59 L338.28 246.3 L338.7 247.45 L339.31 249.02 L339.92 249.95 L340.54 250.59 L341.2 251.62 L341.91 252.41 L342.67 253.07 L343.44 254.05 L344.2 254.72 L345.13 255.09 L346.05 255.81 L347.2 256.42 L348.15 256.64 L349.3 256.38 L350.46 256.46 L351.49 257.07 L352.2 256.9" fill="none" stroke="#000" stroke-width="1.7" stroke-linejoin="round"/>
<line x1="287.2" y1="194" x2="287.3" y2="257.6" stroke="#1a1a1a" stroke-width="1"/>
<path d="M16.4 158.1V257.3" stroke="#505050" stroke-width="1"/>
<path d="M146.6 158.1V257.3" stroke="#666" stroke-width="1"/>
<path d="M15.9 158.1H147.1" stroke="#3a3a3a" stroke-width="1"/>
<path d="M15.9 257.3H147.1" stroke="#111" stroke-width="1.2"/>
<path d="M150.5 157.7V257.2" stroke="#555" stroke-width="1"/>
<path d="M281.8 157.7V257.2" stroke="#666" stroke-width="1"/>
<path d="M150 157.7H282.3" stroke="#3a3a3a" stroke-width="1"/>
<path d="M150 257.2H282.3" stroke="#111" stroke-width="1.2"/>
<path d="M286.6 157.7V257.1" stroke="#333" stroke-width="1.2"/>
<path d="M417.5 157.7V257.1" stroke="#4a4a4a" stroke-width="1"/>
<path d="M286.1 157.7H418" stroke="#3a3a3a" stroke-width="1"/>
<path d="M286.1 257.1H418" stroke="#111" stroke-width="1.2"/>
<text x="18.7" y="169.3" class="L" text-anchor="start">E</text>
<text x="153.2" y="169" class="L" text-anchor="start">F</text>
<text x="288.3" y="168" class="L" text-anchor="start">G</text>
<text x="139.3" y="169.4" class="b" text-anchor="end">IM: 96h</text>
<text x="272.3" y="168.2" class="b" text-anchor="end">PHA-739358: 72h</text>
<text x="407.8" y="168.6" class="b" text-anchor="end">PHA-739358: 96h</text>
<line x1="10.1" y1="160.1" x2="10.1" y2="256" stroke="#555" stroke-width="1"/>
<path d="M10.1 158.1L8.2 161.7L12 161.7Z" fill="#111"/>
<line x1="17.7" y1="263" x2="416.6" y2="263" stroke="#666" stroke-width="1.1"/>
<path d="M418.6 263L414.8 261.3L414.8 264.7Z" fill="#111"/>
<text x="193" y="275.3" class="b" text-anchor="start">P-CrkL (log FL1-H)</text>
<text transform="translate(4.5 218.4) rotate(-90)" class="c" text-anchor="middle">counts</text>
<rect x="429" y="107.4" width="85.1" height="59.7" fill="#fff" stroke="#555" stroke-width="1"/>
<line x1="433.6" y1="116.8" x2="448.6" y2="116.8" stroke="#444" stroke-width="0.9" stroke-dasharray="2.2 1.9"/>
<text x="457" y="119.2" class="r" text-anchor="start">Autofluorescence</text>
<line x1="433.6" y1="126.8" x2="448.6" y2="126.8" stroke="#b0b0b0" stroke-width="1"/>
<text x="457" y="129.2" class="r" text-anchor="start">Isotype control</text>
<line x1="433.6" y1="138" x2="448.6" y2="138" stroke="#000" stroke-width="2"/>
<text x="457" y="140.4" class="r" text-anchor="start">Untreated control</text>
<line x1="433.6" y1="148.5" x2="448.6" y2="148.5" stroke="#444" stroke-width="0.9" stroke-dasharray="3 1.6 1 1.6"/>
<text x="457" y="150.9" class="r" text-anchor="start">5µM PHA-739358</text>
<line x1="433.6" y1="159.1" x2="448.6" y2="159.1" stroke="#777" stroke-width="1"/>
<text x="457" y="161.5" class="r" text-anchor="start">5µM Imatinib</text>
</svg></body></html>
